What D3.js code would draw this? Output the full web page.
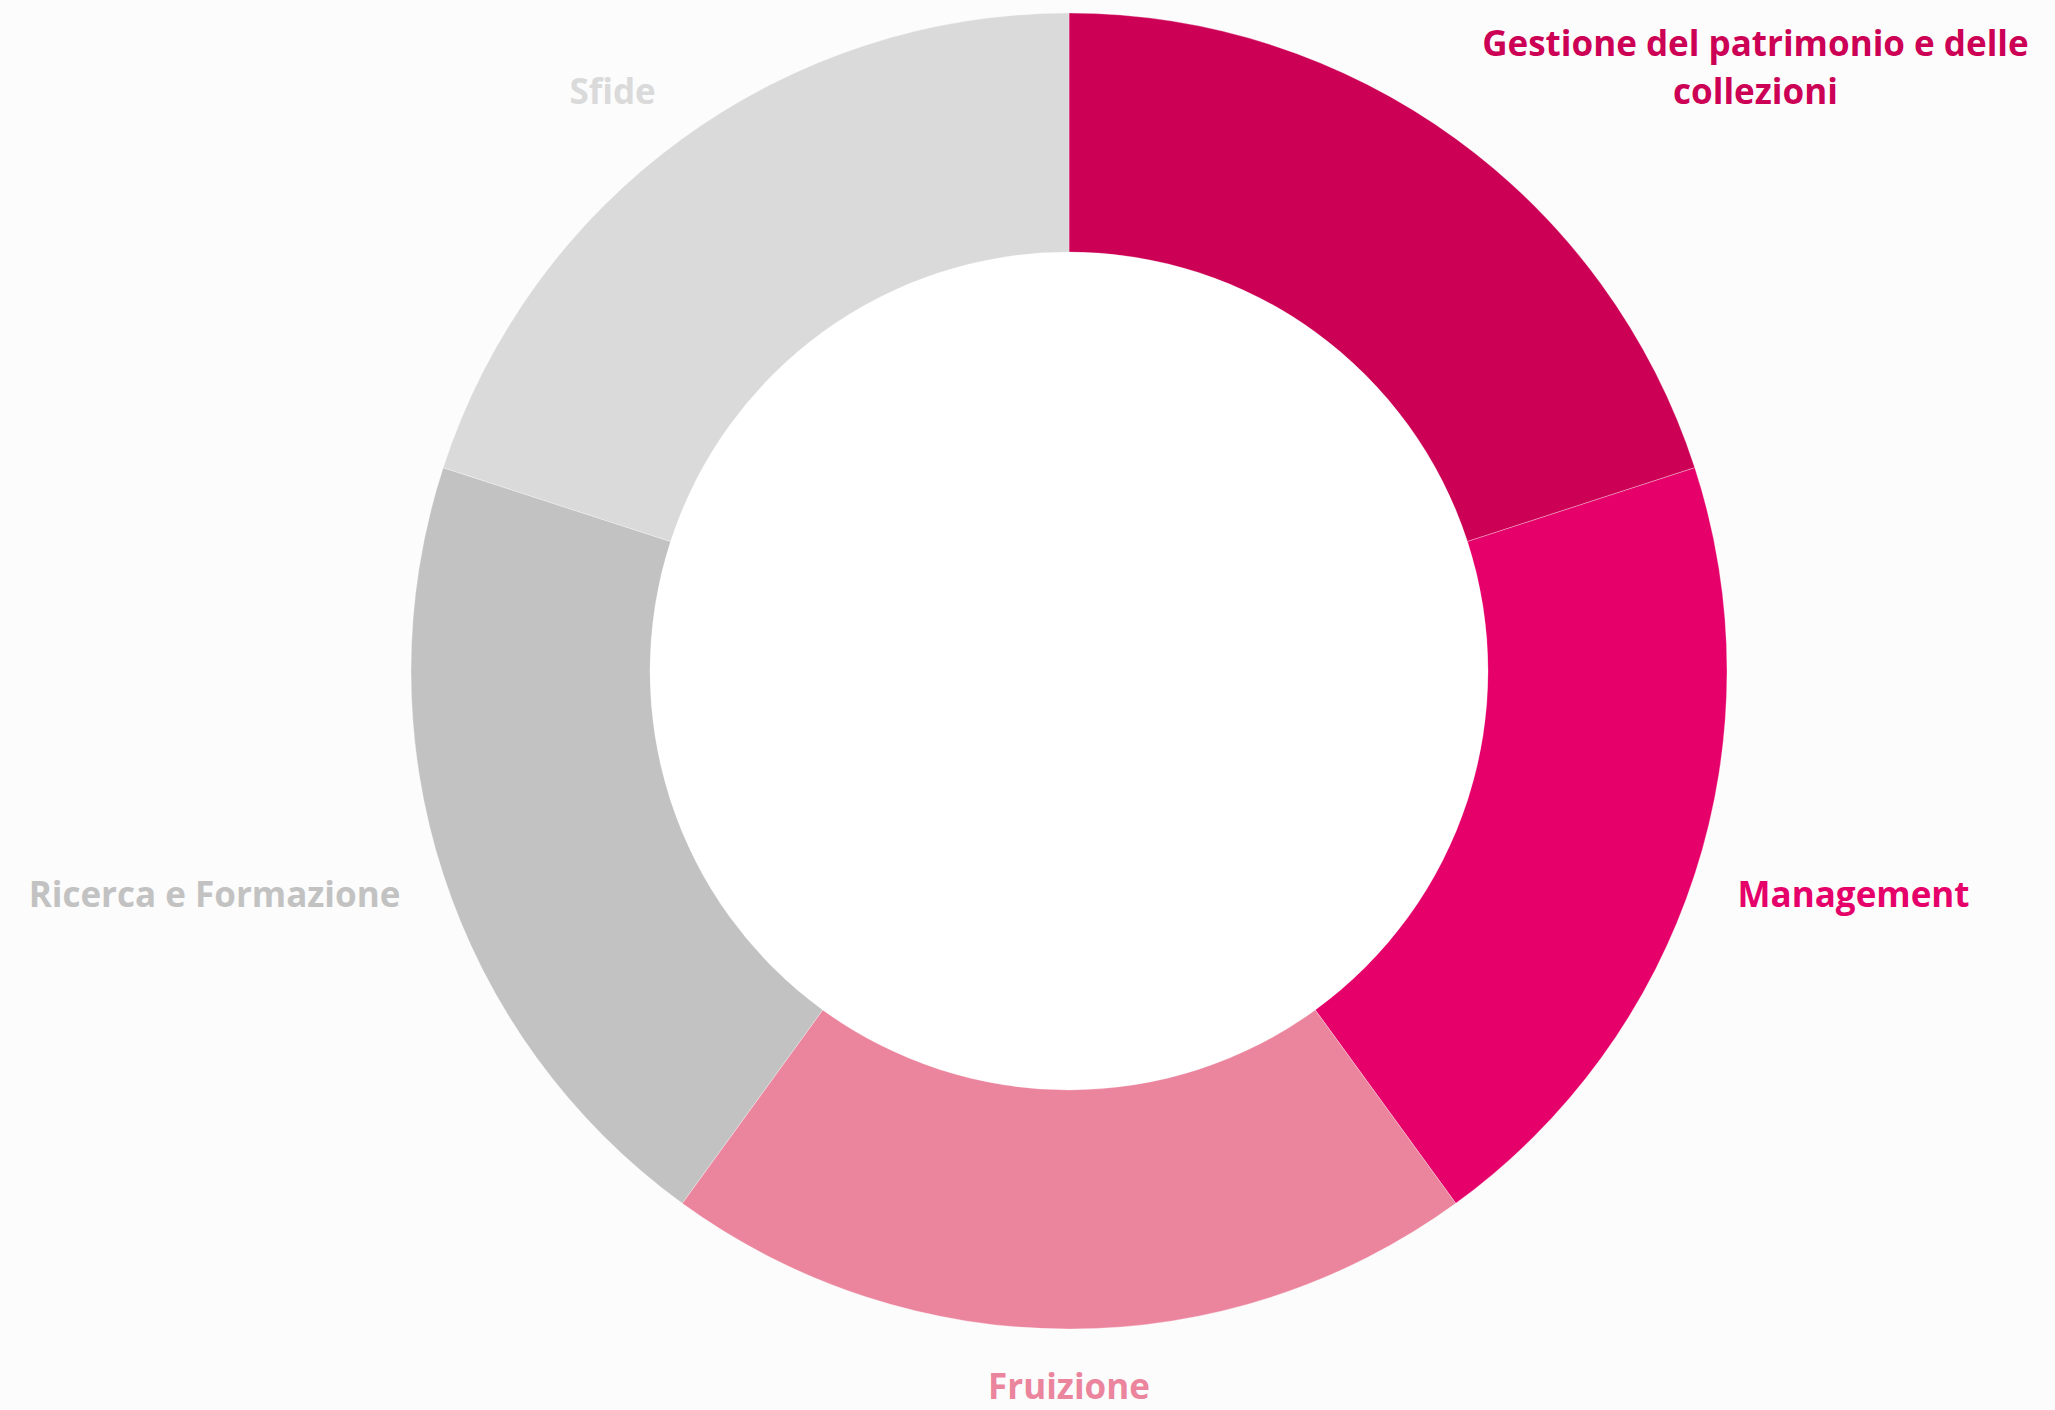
<!DOCTYPE html>
<html>
<head>
<meta charset="utf-8">
<script src="https://cdn.jsdelivr.net/npm/d3@7"></script>
<style>
    html, body { margin: 0; padding: 0; background: #fcfcfc; }
    svg { display: block; }
</style>
</head>
<body>
<script>
// 数据
const categories = ['Gestione del patrimonio e delle collezioni', 'Management', 'Fruizione', 'Ricerca e Formazione', 'Sfide'];
const values = [1, 1, 1, 1, 1];
const colors = ['#cc0055', '#e5006a', '#eb849d', '#c2c2c2', '#dadada'];

const svgWidth = 2055, svgHeight = 1410;
const cx = 1069, cy = 671;
const outerR = 658, innerR = 419, labelR = 703;
const fontSize = 35, lineHeight = 48;

const svg = d3.select('body')
    .append('svg')
    .attr('width', svgWidth)
    .attr('height', svgHeight);

const g = svg.append('g').attr('transform', `translate(${cx},${cy})`);

const pie = d3.pie().sort(null).value(d => d.value);
const arc = d3.arc().innerRadius(innerR).outerRadius(outerR);
const data = pie(categories.map((c, i) => ({name: c, value: values[i], color: colors[i]})));

// 绘制扇区
g.append('circle').attr('r', innerR).attr('fill', '#ffffff');
g.selectAll('path.slice')
    .data(data)
    .enter()
    .append('path')
    .attr('class', 'slice')
    .attr('d', arc)
    .attr('fill', d => d.data.color)
    .attr('stroke', 'rgba(255,255,255,0.5)')
    .attr('stroke-width', 0.6);

// 文本宽度测量
const fontFamily = '"Open Sans", "Noto Sans", sans-serif';
const measure = svg.append('text')
    .style('font-family', fontFamily)
    .style('font-weight', 700)
    .style('font-size', `${fontSize}px`);
const textWidth = s => { measure.text(s); return measure.node().getComputedTextLength(); };

// 绘制标签
data.forEach(d => {
    const a = (d.startAngle + d.endAngle) / 2;
    const sx = Math.sin(a), cy0 = -Math.cos(a);
    const px = cx + sx * labelR, py = cy + cy0 * labelR;

    // 可用宽度，超出则换行
    let avail = Math.abs(sx) < 0.1 ? svgWidth : (sx > 0 ? svgWidth - px - 4 : px - 4);
    const words = d.data.name.split(' ');
    const lines = [];
    let cur = '';
    words.forEach(w => {
        const test = cur ? cur + ' ' + w : w;
        if (cur && textWidth(test) > avail) { lines.push(cur); cur = w; } else { cur = test; }
    });
    lines.push(cur);
    const blockW = d3.max(lines, textWidth);

    // 水平位置
    let centerX;
    if (Math.abs(sx) < 0.1) centerX = px;
    else if (sx > 0) centerX = px + blockW / 2;
    else centerX = px - blockW / 2;

    // 垂直位置（首行基线）
    const n = lines.length;
    let firstBase;
    if (cy0 < -0.5) firstBase = py + 2 - (n - 1) * lineHeight;        // 上方：底部对齐
    else if (cy0 > 0.5) firstBase = py + fontSize * 0.72;             // 下方：顶部对齐
    else firstBase = py + fontSize * 0.54 - (n - 1) * lineHeight / 2; // 两侧：居中

    const t = svg.append('text')
        .attr('text-anchor', 'middle')
        .attr('fill', d.data.color)
        .style('font-family', fontFamily)
        .style('font-weight', 700)
        .style('font-size', `${fontSize}px`);
    lines.forEach((l, i) => {
        t.append('tspan')
            .attr('x', centerX)
            .attr('y', firstBase + i * lineHeight)
            .text(l);
    });
});
measure.remove();
</script>
</body>
</html>
